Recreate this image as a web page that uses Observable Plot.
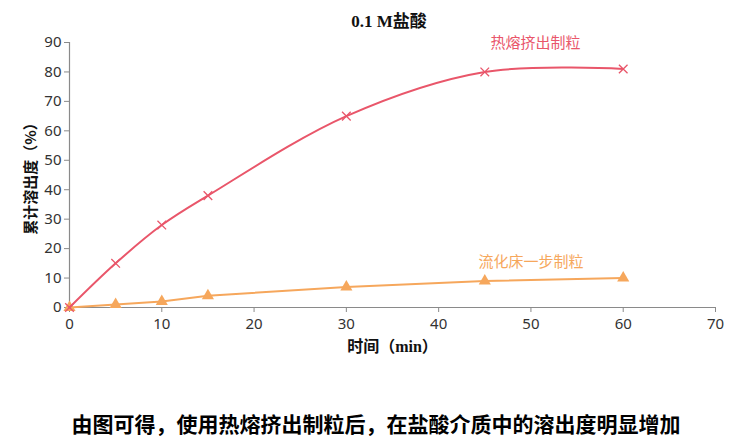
<!DOCTYPE html>
<html>
<head>
<meta charset="utf-8">
<script src="https://cdn.jsdelivr.net/npm/d3@7"></script>
<script src="https://cdn.jsdelivr.net/npm/@observablehq/plot@0.6"></script>
<style>
  body { margin: 0; background: #fff; width: 732px; height: 445px; overflow: hidden; }
  #title { height: 30px; width: 732px; position: relative; }
  #title span { position: absolute; left: 389px; top: 7px; transform: translateX(-50%);
    font: bold 17px "Liberation Serif", "Noto Sans CJK SC", serif; color: #111; white-space: nowrap; }
  #caption { width: 732px; height: 75px; position: relative; }
  #caption span { position: absolute; left: 376px; top: 38px; transform: translateX(-50%);
    font: bold 21px "Noto Sans CJK SC", sans-serif; color: #000; white-space: nowrap; }
  svg { display: block; }
</style>
</head>
<body>
<div id="title"><span>0.1 M盐酸</span></div>
<div id="chart"></div>
<div id="caption"><span>由图可得，使用热熔挤出制粒后，在盐酸介质中的溶出度明显增加</span></div>
<script>
const times = [0, 5, 10, 15, 30, 45, 60];
const hotMelt = [0, 15, 28, 38, 65, 80, 81];
const fluidBed = [0, 1, 2, 4, 7, 9, 10];
const seriesNames = ["热熔挤出制粒", "流化床一步制粒"];
const seriesColors = ["#e9566a", "#f6a75c"];
const xTicks = [0, 10, 20, 30, 40, 50, 60, 70];
const yTicks = [0, 10, 20, 30, 40, 50, 60, 70, 80, 90];
const labelPos = [{x: 50.5, y: 89.7}, {x: 50, y: 15.3}];

const hotData = times.map((t, i) => ({t, v: hotMelt[i]}));
const fluidData = times.map((t, i) => ({t, v: fluidBed[i]}));
const labels = seriesNames.map((name, i) => ({name, color: seriesColors[i], x: labelPos[i].x, y: labelPos[i].y}));

const axisColor = "#8a8a8a";
const chart = Plot.plot({
  width: 732,
  height: 340,
  marginLeft: 69,
  marginRight: 17,
  marginTop: 12,
  marginBottom: 63,
  style: {fontFamily: "'Noto Sans', sans-serif", fontSize: "15px", color: "#333", background: "#fff"},
  x: {domain: [0, 70], ticks: xTicks, label: null},
  y: {domain: [0, 90], ticks: yTicks, label: null},
  marks: [
    Plot.ruleY([0], {stroke: axisColor, strokeWidth: 1.2}),
    Plot.ruleX([0], {stroke: axisColor, strokeWidth: 1.2}),
    Plot.axisX({ticks: xTicks, tickSize: 5, tickPadding: 6, stroke: axisColor, fill: "#333", fontSize: 15, label: null}),
    Plot.axisY({ticks: yTicks, tickSize: 5, tickPadding: 3, stroke: axisColor, fill: "#333", fontSize: 15, label: null}),
    Plot.line(fluidData, {x: "t", y: "v", stroke: seriesColors[1], strokeWidth: 2}),
    Plot.dot(fluidData, {x: "t", y: "v", symbol: "triangle", fill: seriesColors[1], r: 4.5}),
    Plot.line(hotData, {x: "t", y: "v", stroke: seriesColors[0], strokeWidth: 2, curve: "catmull-rom"}),
    Plot.dot(hotData, {x: "t", y: "v", symbol: "times", stroke: seriesColors[0], strokeWidth: 1.3, r: 4}),
    Plot.text(labels, {x: "x", y: "y", text: "name", fill: "color", fontSize: 15,
      fontFamily: "'Noto Sans CJK SC', sans-serif", textAnchor: "middle"}),
    Plot.text(["时间（min）"], {frameAnchor: "bottom", dy: 44, fontSize: 16, fontWeight: "bold", fill: "#111",
      textAnchor: "middle", fontFamily: "'Liberation Serif', 'Noto Sans CJK SC', serif"}),
    Plot.text(["累计溶出度（%）"], {frameAnchor: "left", dx: -38, rotate: -90, fontSize: 15, fontWeight: "bold", fill: "#111",
      textAnchor: "middle", fontFamily: "'Noto Sans CJK SC', sans-serif"})
  ]
});
document.getElementById("chart").appendChild(chart);
</script>
</body>
</html>
